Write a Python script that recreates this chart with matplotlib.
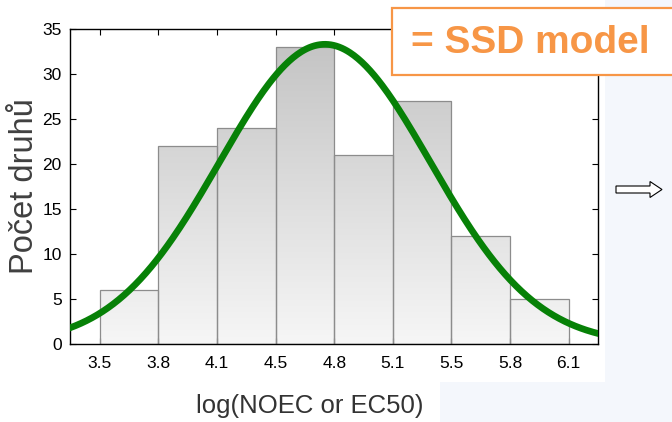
import numpy as np
import matplotlib
matplotlib.use("Agg")
import matplotlib.pyplot as plt
from matplotlib.patches import Rectangle, FancyArrow
from matplotlib.colors import LinearSegmentedColormap
from matplotlib import font_manager

# ---- data ----
edge_labels = ["3.5", "3.8", "4.1", "4.5", "4.8", "5.1", "5.5", "5.8", "6.1"]
counts = [6, 22, 24, 33, 21, 27, 12, 5]
# fitted normal (SSD model) in bin-index units
fit_mu = 3.84
fit_sigma = 1.8
fit_peak = 33.3
y_ticks = [0, 5, 10, 15, 20, 25, 30, 35]

plt.rcParams['font.family'] = ['Liberation Sans', 'DejaVu Sans']
names = {f.name for f in font_manager.fontManager.ttflist}
narrow = 'Liberation Sans Narrow' if 'Liberation Sans Narrow' in names else 'Liberation Sans'

W, H = 672, 422
fig = plt.figure(figsize=(W / 100, H / 100), dpi=100)
fig.patch.set_facecolor('#f4f7fc')
# white picture areas
fig.patches.append(Rectangle((0, (H - 382) / H), 605 / W, 382 / H,
                             transform=fig.transFigure, facecolor='white',
                             edgecolor='none', zorder=-2))
fig.patches.append(Rectangle((0, 0), 440 / W, (H - 380) / H,
                             transform=fig.transFigure, facecolor='white',
                             edgecolor='none', zorder=-2))

ax = fig.add_axes([70 / W, (H - 344) / H, (598 - 70) / W, (344 - 29) / H])
ax.set_zorder(1)
ax.set_facecolor('white')

cmap = LinearSegmentedColormap.from_list('g', ['#f6f6f6', '#c2c2c2'])
for i, c in enumerate(counts):
    grad = np.linspace(0, c, 100).reshape(-1, 1)
    ax.imshow(grad, extent=(i, i + 1, 0, c), origin='lower', aspect='auto',
              cmap=cmap, vmin=0, vmax=35, zorder=1)
    ax.add_patch(Rectangle((i, 0), 1, c, facecolor='none',
                           edgecolor='#8c8c8c', linewidth=0.9, zorder=2))

xs = np.linspace(-0.6, 8.6, 400)
ys = fit_peak * np.exp(-(xs - fit_mu) ** 2 / (2 * fit_sigma ** 2))
ax.plot(xs, ys, color='#078107', linewidth=4.8, zorder=3, solid_capstyle='butt')

ax.set_xlim(-0.51, 8.5)
ax.set_ylim(0, 35)
ax.set_xticks(range(len(edge_labels)))
ax.set_xticklabels(edge_labels)
ax.set_yticks(y_ticks)
ax.tick_params(direction='in', length=4, width=0.8, top=True, right=True,
               labelsize=12.5, colors='black')
ax.tick_params(axis='y', pad=6)
ax.tick_params(axis='x', pad=9)
for lab in ax.get_xticklabels() + ax.get_yticklabels():
    lab.set_family(narrow)
for s in ax.spines.values():
    s.set_linewidth(1.0)
    s.set_color('black')

ax.set_xlabel('log(NOEC or EC50)', fontsize=18.5, color='#333333')
ax.xaxis.set_label_coords((310 - 70) / 528, (344 - 394) / 315)
ax.set_ylabel('Počet druhů', fontsize=23.5, color='#404040', family=narrow)
ax.yaxis.set_label_coords((40 - 70) / 528, (344 - 186) / 315)

# SSD model box
fig.patches.append(Rectangle((392 / W, (H - 75) / H), 300 / W, 67 / H,
                             transform=fig.transFigure, facecolor='white',
                             edgecolor='#f79646', linewidth=1.6, zorder=5))
fig.text(411 / W, (H - 43) / H, '= SSD model', fontsize=28, fontweight='bold',
         color='#f79646', ha='left', va='center', zorder=6)

# arrow
fig.patches.append(FancyArrow(616 / W, (H - 189.5) / H, 34 / W, 0,
                              width=7 / H, head_width=16 / H, head_length=12 / W,
                              length_includes_head=False, transform=fig.transFigure,
                              facecolor='white', edgecolor='black', linewidth=0.8,
                              zorder=5))

fig.savefig('out.png', dpi=100)
